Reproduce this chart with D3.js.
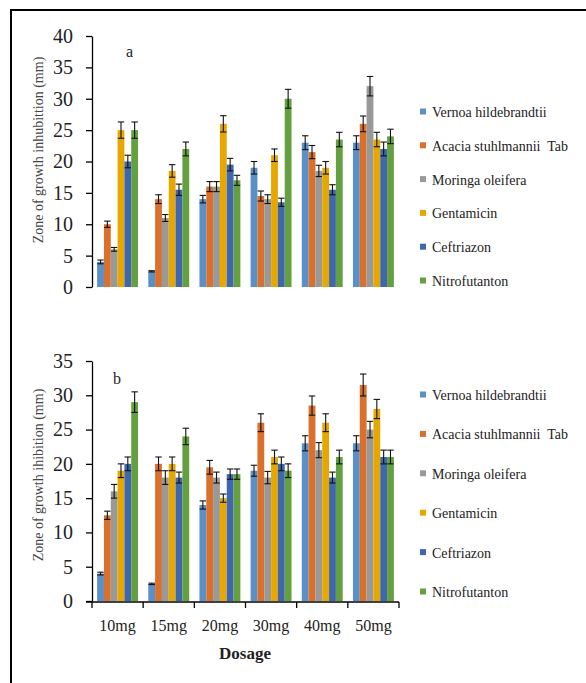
<!DOCTYPE html>
<html>
<head>
<meta charset="utf-8">
<script src="https://cdn.jsdelivr.net/npm/d3@7"></script>
<style>
  body { margin: 0; background: #fff; }
  svg, svg text { font-family: "Liberation Serif", "DejaVu Serif", serif !important; }
</style>
</head>
<body>
<div id="chart"></div>
<script>
// categories and series
var dosages = ["10mg", "15mg", "20mg", "30mg", "40mg", "50mg"];
var seriesNames = ["Vernoa hildebrandtii", "Acacia stuhlmannii  Tab", "Moringa oleifera",
                   "Gentamicin", "Ceftriazon", "Nitrofutanton"];
var seriesColors = ["#5a8fc7", "#d9702c", "#999999", "#e6a800", "#3f67b0", "#64a03f"];

// panel a: one row per series, one value per dosage
var aValues = [
  [4, 2.5, 14, 19, 23, 23],
  [10, 14, 16, 14.5, 21.5, 26],
  [6, 11, 16, 14, 18.5, 32],
  [25, 18.5, 26, 21, 19, 23.5],
  [20, 15.5, 19.5, 13.5, 15.5, 22],
  [25, 22, 17, 30, 23.5, 24]
];
var aErrors = [
  [0.3, 0.1, 0.6, 1.0, 1.1, 1.1],
  [0.5, 0.7, 0.8, 0.8, 1.05, 1.25],
  [0.3, 0.55, 0.8, 0.7, 0.9, 1.55],
  [1.3, 1.0, 1.3, 1.0, 1.0, 1.15],
  [1.0, 0.9, 1.0, 0.65, 0.8, 1.1],
  [1.3, 1.1, 0.8, 1.5, 1.15, 1.15]
];

// panel b
var bValues = [
  [4, 2.5, 14, 19, 23, 23],
  [12.5, 20, 19.5, 26, 28.5, 31.5],
  [16, 18, 18, 18, 22, 25],
  [19, 20, 15, 21, 26, 28],
  [20, 18, 18.5, 20, 18, 21],
  [29, 24, 18.5, 19, 21, 21]
];
var bErrors = [
  [0.2, 0.1, 0.6, 0.8, 1.1, 1.1],
  [0.6, 1.0, 1.0, 1.3, 1.4, 1.6],
  [1.0, 1.0, 0.8, 0.9, 1.1, 1.2],
  [1.0, 1.0, 0.6, 1.0, 1.3, 1.4],
  [1.0, 0.8, 0.75, 1.0, 0.8, 1.0],
  [1.5, 1.2, 0.75, 1.0, 1.0, 1.0]
];

var W = 586, H = 683;
var svg = d3.select("#chart").append("svg")
  .attr("width", W).attr("height", H);

// page frame (only top and left edges are visible)
svg.append("path")
  .attr("d", "M11," + H + "V10H" + W)
  .attr("fill", "none").attr("stroke", "#000").attr("stroke-width", 2);

function drawPanel(cfg) {
  var x = d3.scaleBand().domain(dosages).range([92, 399]).paddingInner(0.2).paddingOuter(0.1);
  var x1 = d3.scaleBand().domain(d3.range(seriesNames.length)).range([0, x.bandwidth()]);
  var y = d3.scaleLinear().domain([0, cfg.yMax]).range([cfg.yBottom, cfg.yTop]);

  var g = svg.append("g");

  // y axis
  var yAxis = g.append("g")
    .attr("transform", "translate(92,0)")
    .call(d3.axisLeft(y).ticks(cfg.yMax / 5).tickSize(6).tickSizeOuter(0).tickPadding(13));
  yAxis.attr("font-family", null);
  yAxis.selectAll("line, path").attr("stroke", "#000").attr("stroke-width", 1.3);
  yAxis.selectAll("text").attr("font-size", 20).attr("fill", "#222");

  // y label
  g.append("text")
    .attr("transform", "translate(43," + cfg.labelY + ") rotate(-90)")
    .attr("text-anchor", "middle")
    .attr("font-size", 14).attr("fill", "#444")
    .text(cfg.yLabel);

  // panel letter
  g.append("text").attr("x", cfg.letterX).attr("y", cfg.letterY)
    .attr("font-size", 16).attr("fill", "#222").text(cfg.letter);

  // bars
  seriesNames.forEach(function(name, si) {
    var sg = g.append("g");
    sg.selectAll("rect")
      .data(dosages)
      .enter().append("rect")
      .attr("x", function(d) { return x(d) + x1(si); })
      .attr("y", function(d, i) { return y(cfg.values[si][i]); })
      .attr("width", x1.bandwidth())
      .attr("height", function(d, i) { return y(0) - y(cfg.values[si][i]); })
      .attr("fill", seriesColors[si]);

    // error bars
    var eb = sg.selectAll("g.err")
      .data(dosages)
      .enter().append("g").attr("class", "err")
      .attr("stroke", "#111").attr("stroke-width", 1.1);
    eb.append("line")
      .attr("x1", function(d) { return x(d) + x1(si) + x1.bandwidth() / 2; })
      .attr("x2", function(d) { return x(d) + x1(si) + x1.bandwidth() / 2; })
      .attr("y1", function(d, i) { return y(cfg.values[si][i] - cfg.errors[si][i]); })
      .attr("y2", function(d, i) { return y(cfg.values[si][i] + cfg.errors[si][i]); });
    [-1, 1].forEach(function(sgn) {
      eb.append("line")
        .attr("x1", function(d) { return x(d) + x1(si) + 0.2; })
        .attr("x2", function(d) { return x(d) + x1(si) + x1.bandwidth() - 0.2; })
        .attr("y1", function(d, i) { return y(cfg.values[si][i] + sgn * cfg.errors[si][i]); })
        .attr("y2", function(d, i) { return y(cfg.values[si][i] + sgn * cfg.errors[si][i]); });
    });
  });

  // x axis (panel b only)
  if (cfg.xAxis) {
    var xa = g.append("g")
      .attr("transform", "translate(0," + (cfg.yBottom + 1) + ")")
      .call(d3.axisBottom(x).tickSize(0).tickPadding(18));
    xa.attr("font-family", null);
    xa.select("path").remove();
    xa.selectAll("text").attr("font-size", 16).attr("fill", "#222");
    xa.append("line").attr("x1", 86).attr("x2", 399).attr("y1", 0).attr("y2", 0)
      .attr("stroke", "#000").attr("stroke-width", 1.3);
    var bounds = dosages.map(function(d) { return x(d) - x.step() * x.paddingInner() / 2; });
    bounds.push(399);
    bounds[0] = 92;
    xa.selectAll("line.bt").data(bounds).enter().append("line").attr("class", "bt")
      .attr("x1", function(d) { return d; }).attr("x2", function(d) { return d; })
      .attr("y1", 0).attr("y2", 6)
      .attr("stroke", "#000").attr("stroke-width", 1.3);
  }

  // legend
  var lg = g.append("g");
  var items = lg.selectAll("g").data(seriesNames).enter().append("g")
    .attr("transform", function(d, i) { return "translate(420," + (cfg.legendY + i * cfg.legendStep) + ")"; });
  items.append("rect").attr("x", 0).attr("y", -3.5).attr("width", 6).attr("height", 6)
    .attr("fill", function(d, i) { return seriesColors[i]; });
  items.append("text").attr("x", 12).attr("y", 0).attr("dy", "0.35em")
    .attr("font-size", 14).attr("fill", "#222")
    .style("white-space", "pre")
    .text(function(d) { return d; });
}

drawPanel({
  values: aValues, errors: aErrors, yMax: 40, yTop: 36, yBottom: 287,
  yLabel: "Zone of growth inhubittion (mm)", labelY: 150,
  letter: "a", letterX: 126, letterY: 57,
  legendY: 112, legendStep: 33.8, xAxis: false
});

drawPanel({
  values: bValues, errors: bErrors, yMax: 35, yTop: 361, yBottom: 601,
  yLabel: "Zone of growth ihibition (mm)", labelY: 475,
  letter: "b", letterX: 113, letterY: 384,
  legendY: 395, legendStep: 39.4, xAxis: true
});

// x title
svg.append("text").attr("x", 245).attr("y", 659)
  .attr("text-anchor", "middle").attr("font-size", 17).attr("font-weight", "bold")
  .attr("fill", "#222").text("Dosage");
</script>
</body>
</html>
